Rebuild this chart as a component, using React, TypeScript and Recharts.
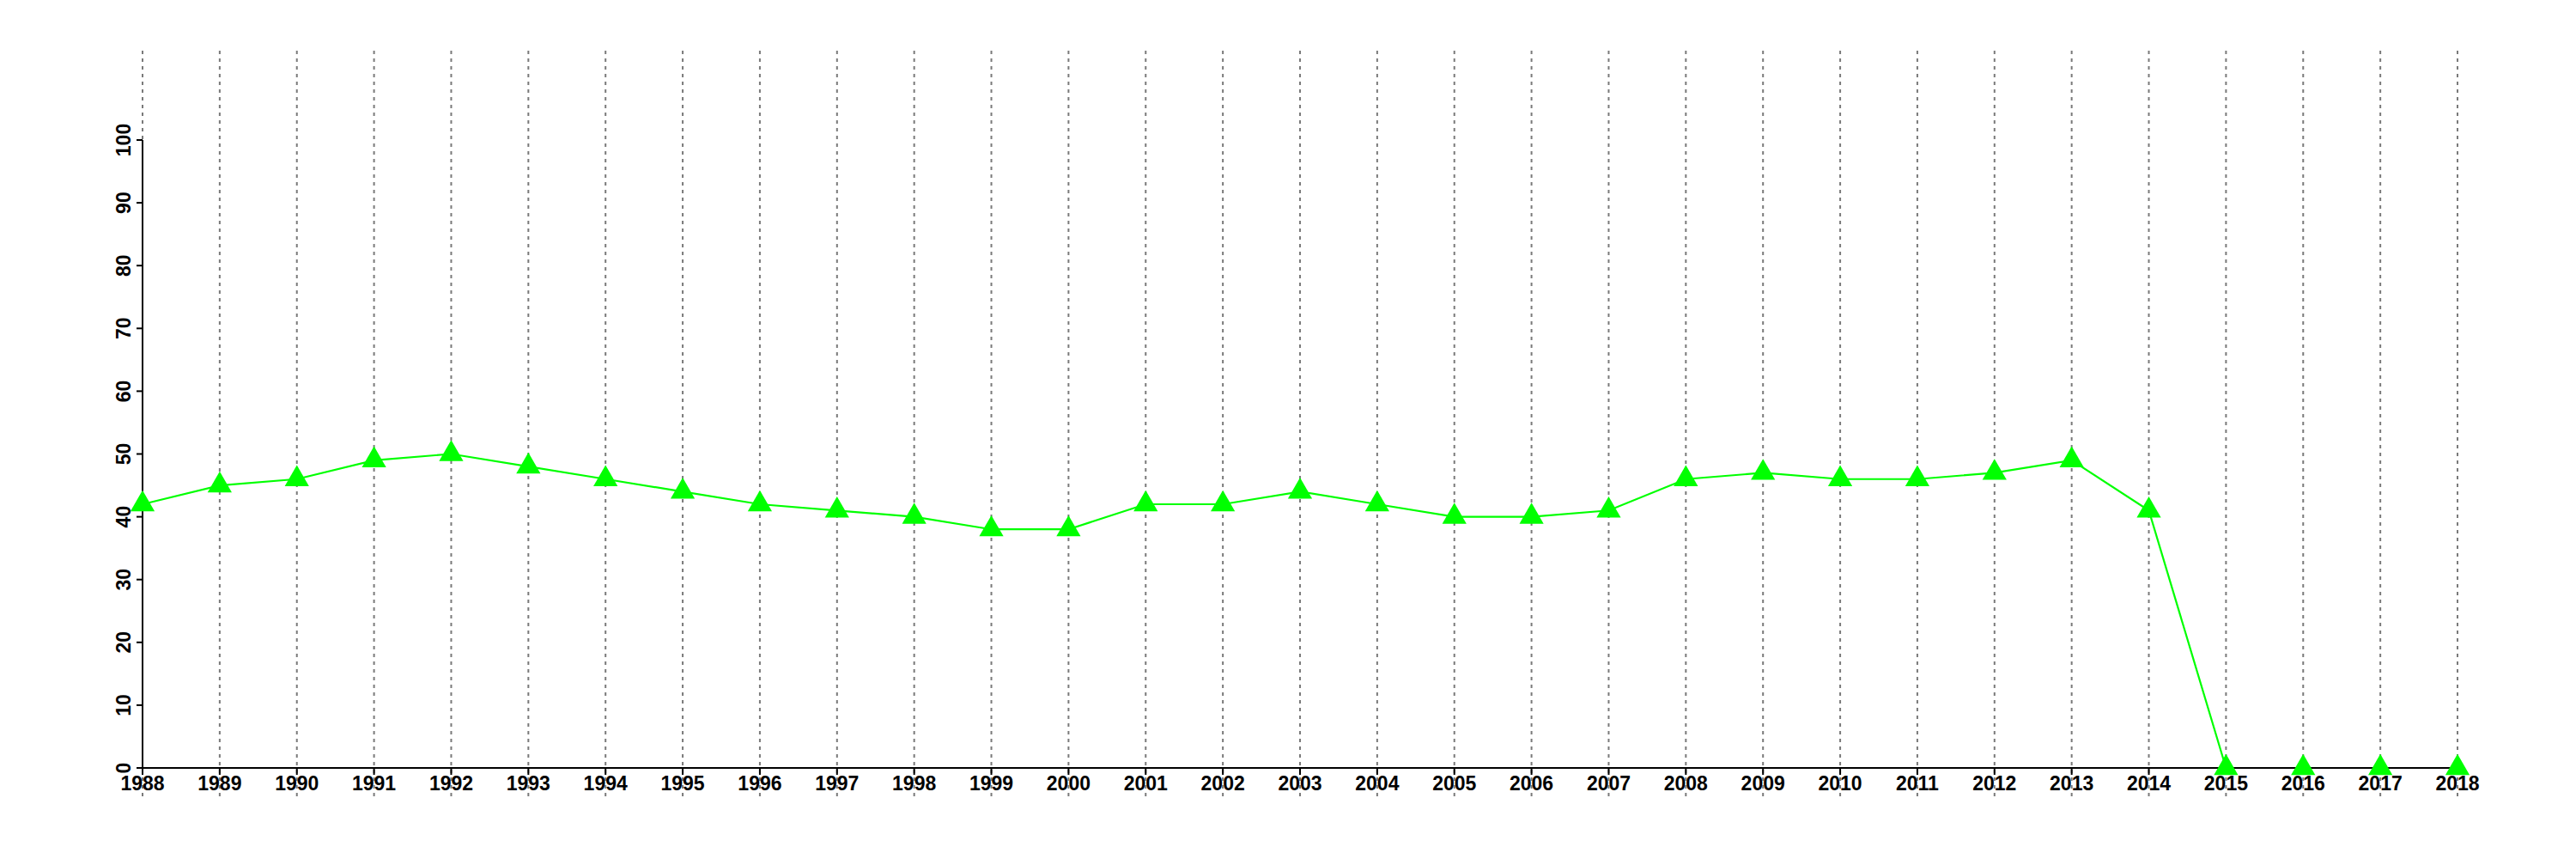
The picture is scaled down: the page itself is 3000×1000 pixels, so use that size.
import { LineChart, Line, XAxis, YAxis, CartesianGrid, Symbols } from 'recharts';

const years = [
  1988, 1989, 1990, 1991, 1992, 1993, 1994, 1995, 1996, 1997, 1998, 1999, 2000, 2001, 2002, 2003,
  2004, 2005, 2006, 2007, 2008, 2009, 2010, 2011, 2012, 2013, 2014, 2015, 2016, 2017, 2018,
];
const values = [
  42, 45, 46, 49, 50, 48, 46, 44, 42, 41, 40, 38, 38, 42, 42, 44,
  42, 40, 40, 41, 46, 47, 46, 46, 47, 49, 41, 0, 0, 0, 0,
];
const yTicks = [0, 10, 20, 30, 40, 50, 60, 70, 80, 90, 100];

const data = years.map((year, i) => ({ year, value: values[i] }));

const FONT = '"Liberation Sans", Arial, Helvetica, sans-serif';
const GREEN = '#00ff00';

function TriangleDot(props: any) {
  const { cx, cy, index } = props;
  return <Symbols key={`tri-${index}`} cx={cx} cy={cy} type="triangle" size={345} fill={GREEN} />;
}

// R-style dotted grid that runs past the plot area
function GridLine(props: any) {
  const top = Math.min(props.y1, props.y2);
  const bottom = Math.max(props.y1, props.y2);
  return (
    <line
      key={props.key}
      x1={props.x1}
      x2={props.x2}
      y1={top - 104}
      y2={bottom + 33}
      stroke="#7a7a7a"
      strokeWidth={2}
      strokeDasharray="4 5"
    />
  );
}

function YTick(props: any) {
  const { x, y, payload } = props;
  return (
    <text
      x={x}
      y={y}
      transform={`rotate(-90, ${x}, ${y})`}
      textAnchor="middle"
      fontFamily={FONT}
      fontWeight="bold"
      fontSize={23}
      fill="#000"
    >
      {payload.value}
    </text>
  );
}

export default function App() {
  return (
    <div style={{ position: 'absolute', left: 0, top: 0, background: '#fff' }}>
      <LineChart
        width={3000}
        height={1000}
        data={data}
        margin={{ top: 163, right: 138, bottom: 66, left: 106 }}
      >
        <Line
          type="linear"
          dataKey="value"
          stroke={GREEN}
          strokeWidth={2.2}
          dot={TriangleDot}
          activeDot={false}
          isAnimationActive={false}
        />
        <CartesianGrid horizontal={false} vertical={GridLine} />
        <XAxis
          type="number"
          dataKey="year"
          domain={[1988, 2018]}
          ticks={years}
          interval={0}
          height={40}
          tickSize={8}
          tickMargin={2}
          axisLine={{ stroke: '#000', strokeWidth: 2 }}
          tickLine={{ stroke: '#000', strokeWidth: 2 }}
          tick={{ fill: '#000', fontFamily: FONT, fontWeight: 'bold', fontSize: 23 }}
        />
        <YAxis
          type="number"
          domain={[0, 100]}
          ticks={yTicks}
          interval={0}
          width={60}
          tickSize={7}
          tickMargin={7}
          axisLine={{ stroke: '#000', strokeWidth: 2 }}
          tickLine={{ stroke: '#000', strokeWidth: 2 }}
          tick={<YTick />}
        />
      </LineChart>
    </div>
  );
}
